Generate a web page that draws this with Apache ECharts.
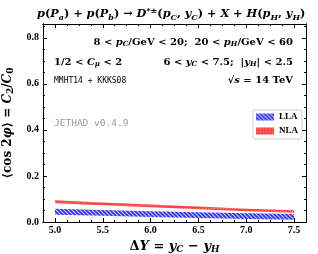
<!DOCTYPE html>
<html><head><meta charset="utf-8">
<script src="https://cdn.jsdelivr.net/npm/echarts@6/dist/echarts.min.js"></script>
<style>html,body{margin:0;padding:0;background:#fff}#c{width:318px;height:254px}</style>
</head><body><div id="c"></div>
<script>
// ---- data ----
const deltaY   = [5.0, 5.5, 6.0, 6.5, 7.0, 7.5];
const llaLow   = [0.032, 0.027, 0.022, 0.017, 0.013, 0.010];
const llaHigh  = [0.058, 0.052, 0.047, 0.042, 0.038, 0.035];
const nlaLow   = [0.081, 0.073, 0.064, 0.055, 0.047, 0.040];
const nlaHigh  = [0.094, 0.085, 0.076, 0.067, 0.058, 0.051];
const xTicks   = [5.0, 5.5, 6.0, 6.5, 7.0, 7.5];
const yTicks   = [0.0, 0.2, 0.4, 0.6, 0.8];
const xMinor   = [4.875, 5.125, 5.25, 5.375, 5.625, 5.75, 5.875, 6.125, 6.25, 6.375, 6.625, 6.75, 6.875, 7.125, 7.25, 7.375, 7.625];
const yMinor   = [0.05, 0.1, 0.15, 0.25, 0.3, 0.35, 0.45, 0.5, 0.55, 0.65, 0.7, 0.75, 0.85];

// ---- styles ----
const SERIF = 'Liberation Serif';
const MATH = 'DejaVu Serif';
const MONO = 'DejaVu Sans Mono';
function mk(w, h, draw){ const c=document.createElement('canvas'); c.width=w; c.height=h; draw(c.getContext('2d')); return c; }
const blueHatch = {image: mk(4,4,g=>{ g.fillStyle='#c8c8ff'; g.fillRect(0,0,4,4); g.strokeStyle='#2d2dff'; g.lineWidth=1.6; g.beginPath(); g.moveTo(-1,-1); g.lineTo(5,5); g.moveTo(3,-1); g.lineTo(5,1); g.moveTo(-1,3); g.lineTo(1,5); g.stroke(); }), repeat:'repeat'};
const redFill = {image: mk(3,3,g=>{ g.fillStyle='#ff4646'; g.fillRect(0,0,3,3); g.fillStyle='#ff8c8c'; g.fillRect(1,1,1,1); }), repeat:'repeat'};

function rich(fs){
  const s = Math.round(fs*0.72);
  return {
    i:{fontFamily:MATH,fontStyle:'italic',fontWeight:'bold',fontSize:fs,color:'#000'},
    r:{fontFamily:MATH,fontWeight:'bold',fontSize:fs,color:'#000'},
    si:{fontFamily:MATH,fontStyle:'italic',fontWeight:'bold',fontSize:s,padding:[Math.round(fs*0.5),0,0,0],color:'#000'},
    sr:{fontFamily:MATH,fontWeight:'bold',fontSize:s,padding:[Math.round(fs*0.5),0,0,0],color:'#000'},
    su:{fontFamily:MATH,fontWeight:'bold',fontSize:s,padding:[0,0,Math.round(fs*0.6),0],color:'#000'}
  };
}
function txt(text, pos, fs){
  return Object.assign({text:text, padding:0, itemGap:0, textStyle:{rich:rich(fs), fontSize:fs}}, pos);
}

const chart = echarts.init(document.getElementById('c'), null, {renderer:'canvas'});
const X0 = 4.875, X1 = 7.625, Y0 = 0, Y1 = 0.86;
const axisLine = {show:true, onZero:false, lineStyle:{color:'#000', width:1}};
function xa(pos, major, labels){
  return {type:'value', position:pos, min:X0, max:X1, axisLine:axisLine, splitLine:{show:false},
    axisTick:{show:true, inside:true, length:major?4:2, lineStyle:{color:'#000'}, customValues: major?xTicks:xMinor},
    axisLabel:{show:labels, customValues:xTicks, formatter:v=>v.toFixed(1), margin:3, fontFamily:SERIF, fontWeight:'bold', fontSize:10, color:'#000'},
    name: labels ? '{r|Δ}{i|Y}{r| = }{i|y}{si|C}{r| − }{i|y}{si|H}' : '',
    nameLocation:'middle', nameGap:8, nameTextStyle:{rich:rich(13)}};
}
function ya(pos, major, labels){
  return {type:'value', position:pos, min:Y0, max:Y1, axisLine:axisLine, splitLine:{show:false},
    axisTick:{show:true, inside:true, length:major?4:2, lineStyle:{color:'#000'}, customValues: major?yTicks:yMinor},
    axisLabel:{show:labels, customValues:yTicks, formatter:v=>v.toFixed(1), margin:4, fontFamily:SERIF, fontWeight:'bold', fontSize:10, color:'#000'},
    name: labels ? '{r|⟨cos 2}{i|φ}{r|⟩ = }{i|C}{sr|2}{r|/}{i|C}{sr|0}' : '',
    nameLocation:'middle', nameGap:26, nameRotate:90, nameTextStyle:{rich:rich(12)}};
}

function band(name, lo, hi, fill, color){
  return {type:'custom', name:name, coordinateSystem:'cartesian2d', xAxisIndex:0, yAxisIndex:0,
    data: deltaY.map((x,i)=>[x, lo[i], hi[i]]), encode:{x:0, y:[1,2]}, color:color,
    renderItem:function(params, api){
      if (params.dataIndex !== 0) return null;
      const up = deltaY.map((x,i)=>api.coord([x, hi[i]]));
      const dn = deltaY.map((x,i)=>api.coord([x, lo[i]])).reverse();
      return {type:'polygon', shape:{points: up.concat(dn)}, style:{fill: fill}};
    }};
}

chart.setOption({
  animation:false,
  backgroundColor:'#fff',
  grid:{left:43, right:12, top:24, bottom:32, containLabel:false, outerBoundsMode:'none'},
  title:[
    txt('{i|p}{r|(}{i|P}{si|a}{r|) + }{i|p}{r|(}{i|P}{si|b}{r|) → }{i|D}{su|*±}{r|(}{i|p}{si|C}{r|, }{i|y}{si|C}{r|) + }{i|X}{r| + }{i|H}{r|(}{i|p}{si|H}{r|, }{i|y}{si|H}{r|)}', {left:37, top:7}, 11.3),
    txt('{r|8 < }{i|p}{si|C}{r|/GeV < 20;  20 < }{i|p}{si|H}{r|/GeV < 60}', {right:25, top:36}, 10),
    txt('{r|1/2 < }{i|C}{si|μ}{r| < 2}', {left:54, top:56}, 10),
    txt('{r|6 < }{i|y}{si|C}{r| < 7.5;  |}{i|y}{si|H}{r|| < 2.5}', {right:25, top:56}, 10),
    {text:'MMHT14 + KKKS08', left:54, top:77, padding:0, textStyle:{fontFamily:MONO, fontSize:8, fontWeight:'normal', color:'#000'}},
    txt('{r|√}{i|s}{r| = 14 TeV}', {right:25, top:75}, 10),
    {text:'JETHAD v0.4.9', left:54, top:119, padding:0, textStyle:{fontFamily:MONO, fontSize:9.5, fontWeight:'normal', color:'#9a9a9a'}}
  ],
  legend:{orient:'vertical', left:253, top:110, icon:'rect', itemWidth:18, itemHeight:7, itemGap:2,
    padding:[1,4,2,3], backgroundColor:'#fff', borderColor:'#d0d0d0', borderWidth:1, borderRadius:2,
    textStyle:{fontFamily:SERIF, fontWeight:'bold', fontSize:9, color:'#000', lineHeight:12},
    data:[{name:'LLA', itemStyle:{color:blueHatch}}, {name:'NLA', itemStyle:{color:redFill}}]},
  xAxis:[xa('bottom',true,true), xa('bottom',false,false), xa('top',true,false), xa('top',false,false)],
  yAxis:[ya('left',true,true), ya('left',false,false), ya('right',true,false), ya('right',false,false)],
  series:[
    band('LLA', llaLow, llaHigh, blueHatch, '#3030ff'),
    band('NLA', nlaLow, nlaHigh, redFill, '#ff3030')
  ]
});
</script></body></html>
